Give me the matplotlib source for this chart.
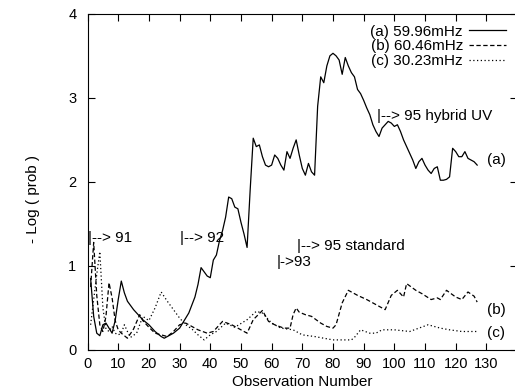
import matplotlib
matplotlib.use('Agg')
import matplotlib.pyplot as plt

plt.rcParams['font.family'] = ['Liberation Sans', 'DejaVu Sans']

# (a) 59.96mHz - solid
obs_a = [1, 2, 3, 4, 5, 6, 7, 8, 9, 10, 11, 12, 13, 15, 16, 18, 19, 20, 22, 24, 25, 27, 28,
         30, 31, 33, 35, 36, 37, 38, 39, 40, 41, 42, 43, 44, 45, 46, 47, 48, 49, 50, 51, 52,
         53, 54, 55, 56, 57, 58, 59, 60, 61, 62, 63, 64, 65, 66, 67, 68, 69, 70, 71, 72, 73,
         74, 75, 76, 77, 78, 79, 80, 81, 82, 83, 84, 85, 86, 87, 88, 89, 90, 91, 92, 93, 94,
         95, 96, 97, 98, 99, 100, 101, 102, 103, 104, 105, 106, 107, 108, 109, 110, 111, 112,
         113, 114, 115, 116, 117, 118, 119, 120, 121, 122, 123, 124, 125, 126, 127]
prob_a = [0.85, 0.4, 0.2, 0.17, 0.3, 0.32, 0.26, 0.2, 0.35, 0.6, 0.82, 0.68, 0.58, 0.48, 0.44,
          0.36, 0.33, 0.3, 0.22, 0.16, 0.14, 0.18, 0.2, 0.26, 0.32, 0.44, 0.63, 0.78, 0.98,
          0.93, 0.88, 0.86, 1.07, 1.13, 1.3, 1.42, 1.58, 1.82, 1.8, 1.7, 1.68, 1.52, 1.38,
          1.22, 1.9, 2.52, 2.42, 2.44, 2.3, 2.2, 2.18, 2.2, 2.32, 2.28, 2.2, 2.14, 2.36, 2.28,
          2.4, 2.5, 2.32, 2.16, 2.08, 2.22, 2.12, 2.08, 2.9, 3.25, 3.18, 3.38, 3.5, 3.53, 3.5,
          3.45, 3.28, 3.48, 3.38, 3.3, 3.25, 3.1, 3.05, 2.97, 2.88, 2.8, 2.68, 2.6, 2.54, 2.64,
          2.68, 2.72, 2.7, 2.66, 2.68, 2.6, 2.5, 2.42, 2.34, 2.26, 2.16, 2.24, 2.28, 2.2, 2.14,
          2.1, 2.16, 2.18, 2.02, 2.02, 2.03, 2.06, 2.4, 2.36, 2.3, 2.3, 2.36, 2.28, 2.26, 2.24,
          2.2]

# (b) 60.46mHz - dashed
obs_b = [1, 2, 3, 4, 5, 6, 7, 8, 9, 10, 11, 13, 15, 17, 18, 20, 22, 24, 26, 28, 30, 32, 34,
         36, 39, 41, 44, 47, 50, 52, 54, 57, 59, 61, 64, 66, 67, 68, 69, 71, 73, 76, 78, 80,
         81, 83, 85, 88, 91, 94, 97, 99, 101, 103, 104, 107, 109, 112, 114, 115, 117, 120,
         122, 124, 126, 127]
prob_b = [0.75, 1.28, 0.65, 0.3, 0.22, 0.4, 0.8, 0.62, 0.35, 0.24, 0.2, 0.14, 0.25, 0.42,
          0.35, 0.27, 0.2, 0.18, 0.16, 0.22, 0.3, 0.32, 0.28, 0.24, 0.2, 0.22, 0.34, 0.3,
          0.24, 0.2, 0.36, 0.47, 0.34, 0.3, 0.26, 0.26, 0.42, 0.5, 0.45, 0.42, 0.4, 0.32,
          0.28, 0.26, 0.3, 0.56, 0.71, 0.65, 0.6, 0.54, 0.48, 0.65, 0.71, 0.63, 0.79, 0.71,
          0.67, 0.6, 0.62, 0.6, 0.71, 0.63, 0.6, 0.69, 0.64, 0.57]

# (c) 30.23mHz - dotted
obs_c = [1, 2, 3, 4, 5, 6, 7, 8, 9, 10, 11, 12, 13, 14, 16, 18, 20, 22, 24, 26, 28, 30, 32,
         34, 36, 38, 40, 42, 45, 48, 52, 55, 57, 60, 63, 67, 70, 74, 77, 80, 83, 86, 87, 89,
         92, 94, 96, 100, 105, 108, 111, 115, 118, 122, 127]
prob_c = [0.3, 0.6, 0.9, 1.17, 0.5, 0.25, 0.22, 0.28, 0.2, 0.18, 0.2, 0.3, 0.22, 0.15, 0.2,
          0.4, 0.35, 0.5, 0.69, 0.58, 0.48, 0.38, 0.3, 0.25, 0.18, 0.12, 0.18, 0.22, 0.32,
          0.27, 0.36, 0.46, 0.44, 0.32, 0.26, 0.24, 0.18, 0.16, 0.14, 0.12, 0.12, 0.12, 0.15,
          0.24, 0.2, 0.2, 0.24, 0.24, 0.22, 0.26, 0.3, 0.26, 0.24, 0.22, 0.22]

x_ticks = list(range(0, 140, 10))
y_ticks = [0, 1, 2, 3, 4]

fig = plt.figure(figsize=(5.15, 3.9), dpi=100)
ax = fig.add_axes([0.17, 0.1026, 0.834, 0.862])

ax.plot(obs_a, prob_a, color='black', lw=0.9, label='(a) 59.96mHz')
ax.plot(obs_b, prob_b, color='black', lw=0.9, linestyle=(0, (3.5, 2)), label='(b) 60.46mHz')
ax.plot(obs_c, prob_c, color='black', lw=0.9, linestyle=(0, (1, 2)), label='(c) 30.23mHz')

ax.set_xlim(0, 140)
ax.set_ylim(0, 4)
ax.set_xticks(x_ticks)
ax.set_yticks(y_ticks)
ax.tick_params(direction='in', top=True, right=True, length=5, labelsize=10.5)
ax.tick_params(axis='x', pad=5)
ax.tick_params(axis='y', pad=8)

ax.set_xlabel('Observation Number', fontsize=11, labelpad=0)
ax.set_ylabel('- Log ( prob )', fontsize=11)
ax.yaxis.set_label_coords(-0.11, 0.45)
ax.xaxis.set_label_coords(0.5, -0.075)

# annotations
fs = 11
ax.text(0.3, 1.33, '|--> 91', fontsize=fs, va='center')
ax.text(30.2, 1.33, '|--> 92', fontsize=fs, va='center')
ax.text(61.5, 1.05, '|->93', fontsize=fs, va='center')
ax.text(68.3, 1.24, '|--> 95 standard', fontsize=fs, va='center')
ax.text(94.3, 2.79, '|--> 95 hybrid UV', fontsize=fs, va='center')
ax.text(130.2, 2.26, '(a)', fontsize=fs, va='center')
ax.text(130.2, 0.48, '(b)', fontsize=fs, va='center')
ax.text(130.2, 0.2, '(c)', fontsize=fs, va='center')

ax.legend(loc='upper right', frameon=False, markerfirst=False, fontsize=11,
          handlelength=2.4, handletextpad=0.4, labelspacing=0.05,
          borderaxespad=0.2, bbox_to_anchor=(0.995, 0.995))

fig.savefig('out.png', dpi=100)
